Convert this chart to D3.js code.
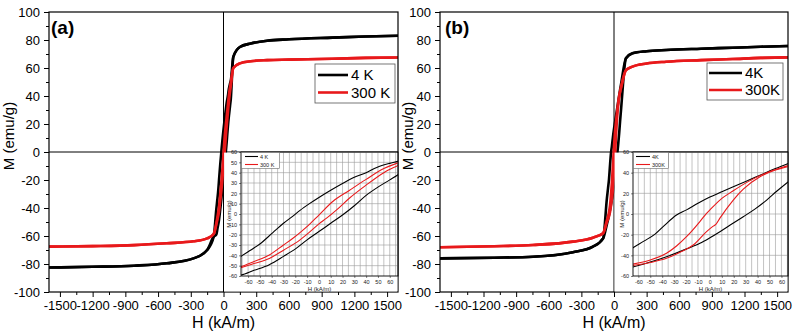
<!DOCTYPE html>
<html>
<head>
<meta charset="utf-8">
<script src="https://cdn.jsdelivr.net/npm/d3@7"></script>
<style>
body { margin: 0; background: #fff; }
text { font-family: "Liberation Sans", Arial, sans-serif; }
</style>
</head>
<body>
<script>
var w = 795;
var h = 333;

// ---- tick values ----
var xTicks = [-1500, -1200, -900, -600, -300, 0, 300, 600, 900, 1200, 1500];
var xMinor = [-1350, -1050, -750, -450, -150, 150, 450, 750, 1050, 1350];
var yTicks = [-100, -80, -60, -40, -20, 0, 20, 40, 60, 80, 100];
var yMinor = [-90, -70, -50, -30, -10, 10, 30, 50, 70, 90];
var insetXTicks = [-60, -50, -40, -30, -20, -10, 0, 10, 20, 30, 40, 50, 60];
var insetYTicksA = [-60, -50, -40, -30, -20, -10, 0, 10, 20, 30, 40, 50, 60];
var insetYTicksB = [-60, -40, -20, 0, 20, 40, 60];
var legendA = ["4 K", "300 K"];
var legendB = ["4K", "300K"];

// ---- panel (a): high field part (branches merged) ----
var aHPos = [1600, 1300, 1000, 600, 400, 250, 150, 90];
var aM4Pos = [83, 82.5, 81.7, 80.5, 79.5, 77.5, 75, 68];
var aM300Pos = [67.5, 67.2, 66.6, 66, 65.6, 64.8, 63.3, 60];
var aHNeg = [-90, -150, -275, -520, -820, -1200, -1600];
var aM4Neg = [-60.5, -70, -76, -79.5, -81.2, -82, -82.5];
var aM300Neg = [-58.6, -61.7, -63.8, -65.2, -66.5, -67.2, -67.6];

// panel (a): low field loop, 4 K
var aHUp4 = [67, 60, 49, 40, 29, 20, 10, 0, -8, -16, -22, -30, -39, -50, -58, -66];
var aMUp4 = [51, 49, 45, 40, 35, 29.5, 23, 16, 10, 3.5, -2, -9, -18, -29, -35, -41];
var aHLo4 = [-66, -55, -42, -30, -19, -10, 0, 10, 20, 30, 40, 50, 60, 67];
var aMLo4 = [-59, -54.5, -49, -41, -33, -25, -17, -9, -1, 8, 18, 26, 33, 38];
// panel (a): low field loop, 300 K
var aHUp300 = [67, 55, 40, 26, 12, 0, -8, -15, -22, -30, -42, -55, -66];
var aMUp300 = [49.5, 44, 33.5, 23, 12.3, -1, -10, -17, -23.5, -30, -39.7, -46, -51];
var aHLo300 = [-66, -55, -42, -30, -16, -8, 0, 6.5, 15, 26, 40, 55, 67];
var aMLo300 = [-52, -48, -43, -35, -25, -17.5, -9.5, -4, 4, 15.5, 28, 40, 47];

// ---- panel (b): high field part ----
var bHPos = [1600, 1350, 1090, 800, 480, 300, 170, 110];
var bM4Pos = [75.7, 75.2, 74.5, 73.8, 72.9, 72, 70.5, 67];
var bM300Pos = [67.6, 67.2, 66.4, 65.6, 64.5, 63.2, 61, 58.5];
var bHNeg = [-100, -194, -378, -745, -1100, -1600];
var bM4Neg = [-61.7, -67.6, -71.6, -74.8, -75.5, -76];
var bM300Neg = [-58, -61.2, -64, -66.4, -67.3, -68];

// panel (b): low field loop, 4 K
var bHUp4 = [66, 55, 42, 30, 19.6, 10, 0, -10, -19.6, -28, -39, -46, -55, -65];
var bMUp4 = [49, 44, 37.5, 31.5, 26.4, 21.5, 16.5, 10.5, 4, -1, -12, -19.5, -26, -33];
var bHLo4 = [-65, -50, -36.4, -20, -8.4, 0, 8.4, 18, 28, 38, 47.6, 56, 66];
var bMLo4 = [-51.5, -46.5, -41.3, -34, -28.4, -23, -17.1, -10, -2.6, 5, 13.5, 22, 31.5];
// panel (b): low field loop, 300 K
var bHUp300 = [66, 55, 47.6, 36.4, 19.6, 8.4, 0, -2.8, -8.4, -19.6, -28, -36.4, -50, -65];
var bMUp300 = [47, 43, 40, 34, 22.5, 13.5, 4, 0.7, -7.4, -22, -31, -38, -44.5, -48.7];
var bHLo300 = [-65, -50, -36.4, -25, -14, -2.8, 2.5, 5, 8.4, 19.6, 28, 42, 55, 66];
var bMLo300 = [-50, -47, -42.9, -37, -30, -17, -12, -10, -4, 13.5, 24, 36, 42.5, 46];

var colors = ["#000000", "#e8191b"];

function pairs(hs, ms) {
    return hs.map(function(v, i) { return [v, ms[i]]; });
}
// upper branch = field going down, lower branch = field going up
function loop(hPos, mPos, hNeg, mNeg, hUp, mUp, hLo, mLo) {
    var up = pairs(hPos, mPos).concat(pairs(hUp, mUp), pairs(hNeg, mNeg));
    var lo = pairs(hNeg, mNeg).reverse().concat(pairs(hLo, mLo), pairs(hPos, mPos).reverse());
    up.sort(function(p, q) { return p[0] - q[0]; });
    lo.sort(function(p, q) { return p[0] - q[0]; });
    return [up, lo];
}
var fmt = function(d) { return String(d); }; // plain hyphen minus, no thousands comma

var svg = d3.select("body").append("svg")
    .attr("width", w)
    .attr("height", h);

var panels = [
    {
        id: "a", left: 49, right: 398, label: "(a)", labelX: 51,
        yTitleX: 14, legend: legendA,
        leg: {x: 315, y: 64, w: 80, h: 39, lx0: 318, lx1: 348, tx: 351, y1: 75, y2: 92.5},
        series: [
            loop(aHPos, aM4Pos, aHNeg, aM4Neg, aHUp4, aMUp4, aHLo4, aMLo4),
            loop(aHPos, aM300Pos, aHNeg, aM300Neg, aHUp300, aMUp300, aHLo300, aMLo300)
        ],
        inset: {left: 241, right: 398, dom: [-66, 67], yTicks: insetYTicksA, gridY: 10,
                yTitleX: 231, leg: {w: 38, lx0: 245, lx1: 258, tx: 260}}
    },
    {
        id: "b", left: 440, right: 788, label: "(b)", labelX: 445,
        yTitleX: 413, legend: legendB,
        leg: {x: 707, y: 63, w: 76, h: 37, lx0: 709, lx1: 742, tx: 745, y1: 73, y2: 90},
        series: [
            loop(bHPos, bM4Pos, bHNeg, bM4Neg, bHUp4, bMUp4, bHLo4, bMLo4),
            loop(bHPos, bM300Pos, bHNeg, bM300Neg, bHUp300, bMUp300, bHLo300, bMLo300)
        ],
        inset: {left: 633, right: 788, dom: [-64.5, 65.5], yTicks: insetYTicksB, gridY: 20,
                yTitleX: 624, leg: {w: 35, lx0: 636, lx1: 650, tx: 652}}
    }
];

var plotTop = 12, plotBottom = 292;

panels.forEach(function(p) {
    var x = d3.scaleLinear().domain([-1600, 1600]).range([p.left, p.right]);
    var y = d3.scaleLinear().domain([-100, 100]).range([plotBottom, plotTop]);
    var g = svg.append("g");

    // zero lines
    g.append("line")
        .attr("x1", x(0)).attr("x2", x(0))
        .attr("y1", plotTop).attr("y2", plotBottom)
        .attr("stroke", "#000").attr("stroke-width", 1);
    g.append("line")
        .attr("x1", p.left).attr("x2", p.right)
        .attr("y1", y(0)).attr("y2", y(0))
        .attr("stroke", "#000").attr("stroke-width", 1);

    var line = d3.line()
        .x(function(d) { return x(d[0]); })
        .y(function(d) { return y(d[1]); })
        .curve(d3.curveMonotoneX);

    p.series.forEach(function(s, i) {
        s.forEach(function(br) {
            g.append("path")
                .attr("d", line(br))
                .attr("fill", "none")
                .attr("stroke", colors[i])
                .attr("stroke-width", 2.6);
        });
    });

    // axes
    var ax = g.append("g").attr("transform", "translate(0," + plotBottom + ")");
    ax.call(d3.axisBottom(x).tickValues(xMinor).tickSize(3).tickSizeOuter(0).tickFormat(""));
    ax.append("g").call(d3.axisBottom(x).tickValues(xTicks).tickSize(5).tickSizeOuter(0).tickPadding(4).tickFormat(fmt));
    var ay = g.append("g").attr("transform", "translate(" + p.left + ",0)");
    ay.call(d3.axisLeft(y).tickValues(yMinor).tickSize(3).tickSizeOuter(0).tickFormat(""));
    ay.append("g").call(d3.axisLeft(y).tickValues(yTicks).tickSize(5).tickSizeOuter(0).tickPadding(4).tickFormat(fmt));
    g.selectAll(".domain").remove();
    g.selectAll(".tick text").attr("font-size", 13).attr("font-family", "Liberation Sans, Arial, sans-serif").attr("fill", "#000");
    g.selectAll(".tick line").attr("stroke", "#000");

    // frame
    g.append("rect")
        .attr("x", p.left).attr("y", plotTop)
        .attr("width", p.right - p.left).attr("height", plotBottom - plotTop)
        .attr("fill", "none").attr("stroke", "#000").attr("stroke-width", 1.2);

    // titles
    g.append("text")
        .attr("x", (p.left + p.right) / 2).attr("y", 328)
        .attr("text-anchor", "middle").attr("font-size", 16)
        .text("H (kA/m)");
    g.append("text")
        .attr("transform", "translate(" + p.yTitleX + ",136) rotate(-90)")
        .attr("text-anchor", "middle").attr("font-size", 15)
        .text("M (emu/g)");
    g.append("text")
        .attr("x", p.labelX).attr("y", 34)
        .attr("font-family", "Open Sans, sans-serif").attr("font-weight", "bold")
        .attr("font-size", 19)
        .text(p.label);

    // main legend
    var L = p.leg;
    g.append("rect")
        .attr("x", L.x).attr("y", L.y).attr("width", L.w).attr("height", L.h)
        .attr("fill", "#fff").attr("stroke", "#555").attr("stroke-width", 0.8);
    [L.y1, L.y2].forEach(function(yy, i) {
        g.append("line")
            .attr("x1", L.lx0).attr("x2", L.lx1).attr("y1", yy).attr("y2", yy)
            .attr("stroke", colors[i]).attr("stroke-width", 2.6);
        g.append("text")
            .attr("x", L.tx).attr("y", yy + 5.4)
            .attr("font-size", 15)
            .text(p.legend[i]);
    });

    // ---- inset ----
    var I = p.inset;
    var it = 152, ib = 276;
    var xi = d3.scaleLinear().domain(I.dom).range([I.left, I.right]);
    var yi = d3.scaleLinear().domain([-60, 60]).range([ib, it]);
    var gi = svg.append("g");
    gi.append("rect")
        .attr("x", x(0) + 0.6).attr("y", y(0) + 0.6)
        .attr("width", p.right - x(0) - 1.2).attr("height", plotBottom - y(0) - 1.2)
        .attr("fill", "#fff");

    var gridX = d3.range(Math.ceil(I.dom[0] / 5) * 5, I.dom[1], 5);
    var gridY = d3.range(-60 + I.gridY, 60, I.gridY);
    gi.selectAll(".gx").data(gridX).enter().append("line")
        .attr("x1", function(d) { return xi(d); }).attr("x2", function(d) { return xi(d); })
        .attr("y1", it).attr("y2", ib)
        .attr("stroke", "#9a9a9a").attr("stroke-width", 0.6);
    gi.selectAll(".gy").data(gridY).enter().append("line")
        .attr("x1", I.left).attr("x2", I.right)
        .attr("y1", function(d) { return yi(d); }).attr("y2", function(d) { return yi(d); })
        .attr("stroke", "#9a9a9a").attr("stroke-width", 0.6);

    var clipId = "clip" + p.id;
    svg.append("clipPath").attr("id", clipId).append("rect")
        .attr("x", I.left).attr("y", it).attr("width", I.right - I.left).attr("height", ib - it);
    var lineI = d3.line()
        .x(function(d) { return xi(d[0]); })
        .y(function(d) { return yi(d[1]); })
        .curve(d3.curveMonotoneX);
    var gc = gi.append("g").attr("clip-path", "url(#" + clipId + ")");
    p.series.forEach(function(s, i) {
        s.forEach(function(br) {
            gc.append("path")
                .attr("d", lineI(br))
                .attr("fill", "none")
                .attr("stroke", colors[i])
                .attr("stroke-width", 1.1);
        });
    });

    gi.append("g").attr("transform", "translate(0," + ib + ")")
        .call(d3.axisBottom(xi).tickValues(insetXTicks).tickSize(2).tickSizeOuter(0).tickPadding(2).tickFormat(fmt));
    gi.append("g").attr("transform", "translate(" + I.left + ",0)")
        .call(d3.axisLeft(yi).tickValues(I.yTicks).tickSize(2).tickSizeOuter(0).tickPadding(2).tickFormat(fmt));
    gi.selectAll(".domain").remove();
    gi.selectAll(".tick text").attr("font-size", 5.5).attr("fill", "#222")
        .attr("font-family", "Liberation Sans, Arial, sans-serif");
    gi.selectAll(".tick line").attr("stroke", "#333").attr("stroke-width", 0.6);

    gi.append("rect")
        .attr("x", I.left).attr("y", it)
        .attr("width", I.right - I.left).attr("height", ib - it)
        .attr("fill", "none").attr("stroke", "#000").attr("stroke-width", 0.9);

    gi.append("text")
        .attr("x", (I.left + I.right) / 2).attr("y", 290.5)
        .attr("text-anchor", "middle").attr("font-size", 6).attr("fill", "#222")
        .text("H (kA/m)");
    gi.append("text")
        .attr("transform", "translate(" + I.yTitleX + ",214) rotate(-90)")
        .attr("text-anchor", "middle").attr("font-size", 6).attr("fill", "#222")
        .text("M (emu/g)");

    var IL = I.leg;
    gi.append("rect")
        .attr("x", I.left + 0.5).attr("y", it + 0.5).attr("width", IL.w).attr("height", 16)
        .attr("fill", "#fff").attr("stroke", "#666").attr("stroke-width", 0.6);
    [156.5, 164.5].forEach(function(yy, i) {
        gi.append("line")
            .attr("x1", IL.lx0).attr("x2", IL.lx1).attr("y1", yy).attr("y2", yy)
            .attr("stroke", colors[i]).attr("stroke-width", 1.1);
        gi.append("text")
            .attr("x", IL.tx).attr("y", yy + 2)
            .attr("font-size", 5.5).attr("fill", "#222")
            .text(p.legend[i]);
    });
});
</script>
</body>
</html>
